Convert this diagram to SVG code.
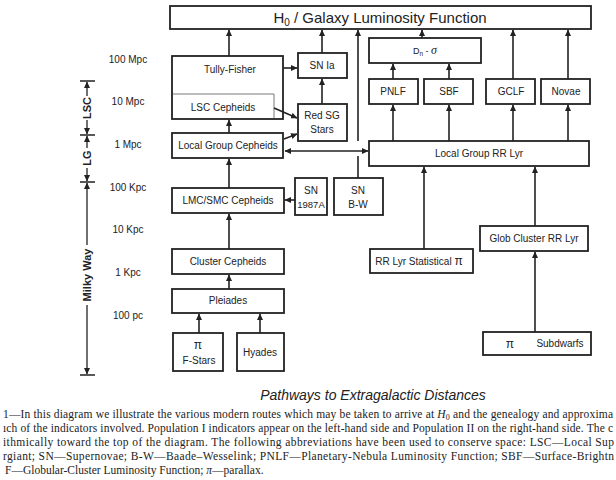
<svg xmlns="http://www.w3.org/2000/svg" width="616" height="480" viewBox="0 0 616 480">
<style>
.box{fill:#fff;stroke:#222;stroke-width:1.8}
.thin{fill:none;stroke:#555;stroke-width:0.8}
.t{font-family:"Liberation Sans",Arial,sans-serif;font-size:10px;fill:#222;text-anchor:middle}
.sc{font-family:"Liberation Sans",Arial,sans-serif;font-size:10px;fill:#222;text-anchor:middle}
.lab{font-family:"Liberation Sans",Arial,sans-serif;font-size:11px;font-weight:bold;fill:#222;text-anchor:middle}
.c{fill:none;stroke:#222;stroke-width:1.6}
.ln{fill:none;stroke:#222;stroke-width:1.3}
.cap{font-family:"Liberation Serif","Times New Roman",serif;font-size:11.5px;fill:#222}
</style>
<defs>
<marker id="ah" markerUnits="userSpaceOnUse" markerWidth="7" markerHeight="6" refX="6" refY="3" orient="auto-start-reverse">
<path d="M0,0 L6.5,3 L0,6 z" fill="#222"/>
</marker>
</defs>
<rect width="616" height="480" fill="#fff"/>

<g id="H0"><rect class="box" x="170" y="6" width="421" height="23"/>
<text x="380" y="23" class="t" style="font-size:15px">H<tspan dy="3" style="font-size:10px">0</tspan><tspan dy="-3"> / Galaxy Luminosity Function</tspan></text></g>

<g id="tully"><rect class="box" x="172" y="56" width="111" height="63"/>
<text x="230" y="73" class="t">Tully-Fisher</text></g>
<g id="lsc"><path class="thin" d="M173,94 H274 V118"/>
<text x="223" y="111" class="t">LSC Cepheids</text></g>

<g id="snia"><rect class="box" x="298" y="53" width="49" height="25"/>
<text x="322" y="69" class="t">SN Ia</text></g>
<g id="redsg"><rect class="box" x="298" y="104" width="49" height="37"/>
<text x="322" y="119" class="t">Red SG</text><text x="322" y="133" class="t">Stars</text></g>

<g id="lgc"><rect class="box" x="172" y="133" width="111" height="25"/>
<text x="228" y="149" class="t">Local Group Cepheids</text></g>
<g id="lmc"><rect class="box" x="172" y="188" width="112" height="25"/>
<text x="228" y="204" class="t">LMC/SMC Cepheids</text></g>
<g id="sn87"><rect class="box" x="295" y="178" width="32" height="37"/>
<text x="311" y="194" class="t">SN</text><text x="311" y="208" class="t" style="font-size:9.5px">1987A</text></g>
<g id="snbw"><rect class="box" x="334" y="178" width="49" height="37"/>
<text x="358" y="194" class="t">SN</text><text x="358" y="208" class="t">B-W</text></g>

<g id="clcep"><rect class="box" x="172" y="249" width="112" height="25"/>
<text x="228" y="265" class="t">Cluster Cepheids</text></g>
<g id="pleiades"><rect class="box" x="172" y="289" width="112" height="24"/>
<text x="228" y="304" class="t">Pleiades</text></g>
<g id="fstars"><rect class="box" x="173" y="333" width="50" height="38"/>
<text x="198" y="349" class="t" style="font-size:12px">π</text><text x="199" y="364" class="t">F-Stars</text></g>
<g id="hyades"><rect class="box" x="237" y="333" width="47" height="38"/>
<text x="260" y="356" class="t">Hyades</text></g>

<g id="dn"><rect class="box" x="369" y="38" width="112" height="25"/>
<text x="425" y="54" class="t" style="font-size:9px">D<tspan dy="2" style="font-size:6.5px">n</tspan><tspan dy="-2"> -  </tspan><tspan style="font-size:12px;font-style:italic;font-family:'Liberation Serif',serif">σ</tspan></text></g>
<g id="pnlf"><rect class="box" x="369" y="79" width="49" height="25"/>
<text x="393" y="95" class="t">PNLF</text></g>
<g id="sbf"><rect class="box" x="424" y="79" width="49" height="25"/>
<text x="449" y="95" class="t">SBF</text></g>
<g id="gclf"><rect class="box" x="486" y="79" width="49" height="25"/>
<text x="511" y="95" class="t">GCLF</text></g>
<g id="novae"><rect class="box" x="541" y="79" width="49" height="25"/>
<text x="566" y="95" class="t">Novae</text></g>

<g id="lgrr"><rect class="box" x="369" y="141" width="220" height="25"/>
<text x="479" y="157" class="t">Local Group RR Lyr</text></g>
<g id="rrstat"><rect class="box" x="370" y="249" width="103" height="24"/>
<text x="419" y="265" class="t">RR Lyr Statistical  <tspan style="font-size:12px">π</tspan></text></g>
<g id="glob"><rect class="box" x="480" y="226" width="108" height="25"/>
<text x="534" y="242" class="t">Glob Cluster RR Lyr</text></g>
<g id="subdw"><rect class="box" x="483" y="332" width="108" height="23"/>
<text x="510" y="348" class="t" style="font-size:12px">π</text><text x="560" y="347" class="t">Subdwarfs</text></g>

<g id="connectors">
<path class="c" marker-end="url(#ah)" d="M229,56 V30"/>
<path class="c" marker-end="url(#ah)" d="M283,68 H297"/>
<path class="c" marker-end="url(#ah)" d="M322,53 V30"/>
<path class="c" marker-end="url(#ah)" d="M322,104 V79"/>
<path class="c" marker-end="url(#ah)" d="M274,108 L297,118"/>
<path class="c" marker-end="url(#ah)" d="M284,139 L297,134"/>
<path class="c" marker-start="url(#ah)" marker-end="url(#ah)" d="M285,151 H368"/>
<path class="c" marker-end="url(#ah)" d="M229,133 V120"/>
<path class="c" marker-end="url(#ah)" d="M229,188 V159"/>
<path class="c" marker-end="url(#ah)" d="M295,200 H285"/>
<path class="c" marker-end="url(#ah)" d="M229,249 V214"/>
<path class="c" marker-end="url(#ah)" d="M229,289 V275"/>
<path class="c" marker-end="url(#ah)" d="M199,333 V314"/>
<path class="c" marker-end="url(#ah)" d="M260,333 V314"/>
<path class="c" d="M358,178 V156"/>
<path class="c" marker-end="url(#ah)" d="M358,141 V30"/>
<path class="c" marker-end="url(#ah)" d="M422,38 V30"/>
<path class="c" marker-end="url(#ah)" d="M393,79 V64"/>
<path class="c" marker-end="url(#ah)" d="M449,79 V64"/>
<path class="c" marker-end="url(#ah)" d="M513,79 V30"/>
<path class="c" marker-end="url(#ah)" d="M568,79 V30"/>
<path class="c" marker-end="url(#ah)" d="M393,141 V105"/>
<path class="c" marker-end="url(#ah)" d="M449,141 V105"/>
<path class="c" marker-end="url(#ah)" d="M513,141 V105"/>
<path class="c" marker-end="url(#ah)" d="M568,141 V105"/>
<path class="c" marker-end="url(#ah)" d="M424,249 V167"/>
<path class="c" marker-end="url(#ah)" d="M535,226 V167"/>
<path class="c" marker-end="url(#ah)" d="M535,332 V252"/>
</g>

<g id="scale">
<text x="128" y="63" class="sc">100 Mpc</text>
<text x="128" y="105" class="sc">10 Mpc</text>
<text x="128" y="148" class="sc">1 Mpc</text>
<text x="128" y="191" class="sc">100 Kpc</text>
<text x="128" y="233" class="sc">10 Kpc</text>
<text x="128" y="276" class="sc">1 Kpc</text>
<text x="128" y="319" class="sc">100 pc</text>
<path class="ln" d="M80,81 H95 M80,135 H95 M80,182 H95 M80,375 H95"/>
<path class="ln" marker-end="url(#ah)" d="M87,96 V82"/>
<path class="ln" marker-end="url(#ah)" d="M87,120 V134"/>
<text class="lab" transform="translate(87,108) rotate(-90)" y="4">LSC</text>
<path class="ln" marker-end="url(#ah)" d="M87,148 V136"/>
<path class="ln" marker-end="url(#ah)" d="M87,168 V181"/>
<text class="lab" transform="translate(87,158) rotate(-90)" y="4">LG</text>
<path class="ln" marker-end="url(#ah)" d="M87,245 V183"/>
<path class="ln" marker-end="url(#ah)" d="M87,305 V374"/>
<text class="lab" transform="translate(87,275) rotate(-90)" y="4">Milky Way</text>
</g>

<g id="caption">
<text x="373" y="400" text-anchor="middle" style="font-family:'Liberation Sans',Arial,sans-serif;font-size:14px;font-style:italic;fill:#222">Pathways to Extragalactic Distances</text>
<text class="cap" x="3" y="418" textLength="610" lengthAdjust="spacing">1—In this diagram we illustrate the various modern routes which may be taken to arrive at <tspan font-style="italic">H</tspan><tspan dy="2" style="font-size:8px">0</tspan><tspan dy="-2"> and the genealogy and approxima</tspan></text>
<text class="cap" x="3" y="432" textLength="610" lengthAdjust="spacing">ıch of the indicators involved. Population I indicators appear on the left-hand side and Population II on the right-hand side. The c</text>
<text class="cap" x="3" y="446" textLength="611" lengthAdjust="spacing">ithmically toward the top of the diagram. The following abbreviations have been used to conserve space: LSC—Local Sup</text>
<text class="cap" x="3" y="460" textLength="611" lengthAdjust="spacing">rgiant; SN—Supernovae; B-W—Baade–Wesselink; PNLF—Planetary-Nebula Luminosity Function; SBF—Surface-Brightn</text>
<text class="cap" x="5" y="474">F—Globular-Cluster Luminosity Function; <tspan font-style="italic">π</tspan>—parallax.</text>
</g>
</svg>
